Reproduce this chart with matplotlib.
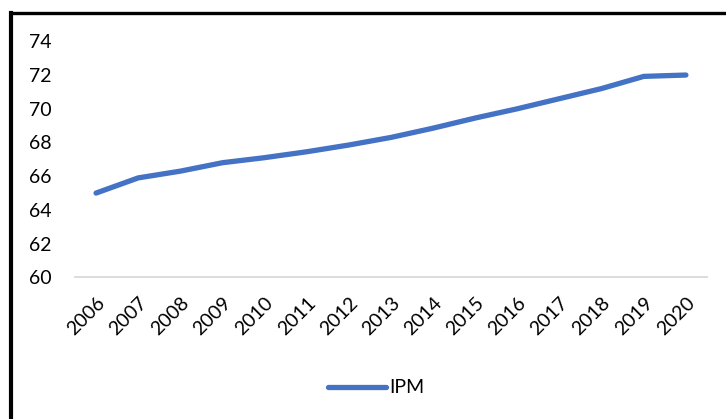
import matplotlib.pyplot as plt
from matplotlib.lines import Line2D

# ---------- data ----------
years = ["2006", "2007", "2008", "2009", "2010", "2011", "2012", "2013",
         "2014", "2015", "2016", "2017", "2018", "2019", "2020"]
ipm = [65.0, 65.9, 66.3, 66.8, 67.1, 67.45, 67.85, 68.3,
       68.85, 69.45, 70.0, 70.6, 71.2, 71.92, 72.0]
y_ticks = [60, 62, 64, 66, 68, 70, 72, 74]

plt.rcParams["font.family"] = ["Lato", "DejaVu Sans"]

fig = plt.figure(figsize=(7.26, 4.19), dpi=100)
ax = fig.add_axes([0.1033, 0.338, 0.8705, 0.5634])

x = list(range(len(years)))
ax.plot(x, ipm, color="#4472C4", linewidth=3.8, solid_capstyle="round",
        solid_joinstyle="round", label="IPM")

ax.set_xlim(-0.5, len(years) - 0.5)
ax.set_ylim(60, 74)
ax.set_yticks(y_ticks)
ax.set_xticks(x)
ax.set_xticklabels(years, rotation=45, ha="right", rotation_mode="anchor")

for s in ["top", "right", "left"]:
    ax.spines[s].set_visible(False)
ax.spines["bottom"].set_color("#D9D9D9")
ax.spines["bottom"].set_linewidth(1.3)
ax.tick_params(axis="both", length=0, labelsize=14, colors="black")
ax.tick_params(axis="y", pad=17)
ax.tick_params(axis="x", pad=12)

fig.legend(loc="center", bbox_to_anchor=(0.518, 0.074), frameon=False,
           fontsize=14, handlelength=3.0, handletextpad=0.15)

# black frame around the chart (top and left visible)
fig.add_artist(Line2D([0.0152, 1.0], [0.969, 0.969], color="black",
                      linewidth=2.4, transform=fig.transFigure))
fig.add_artist(Line2D([0.0152, 0.0152], [0.0, 0.969], color="black",
                      linewidth=3.0, transform=fig.transFigure))

fig.savefig("out.png", dpi=100)
